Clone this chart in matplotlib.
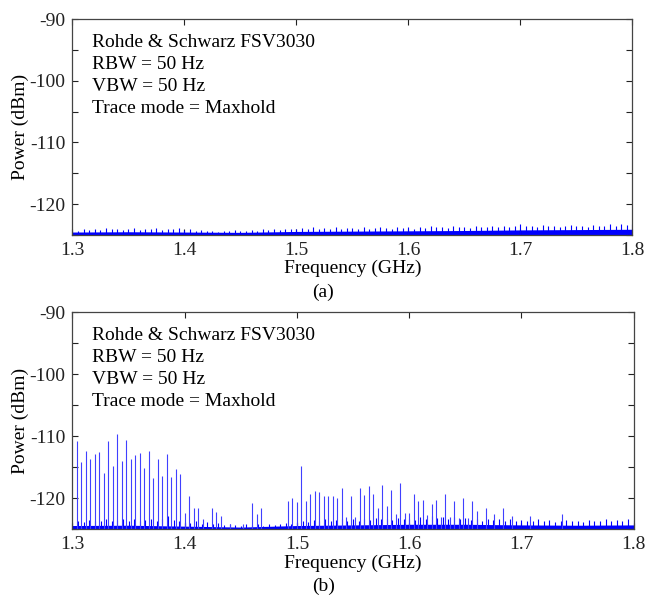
import numpy as np
import matplotlib
matplotlib.use('Agg')
from matplotlib import pyplot as plt

plt.rcParams['font.family'] = ['Liberation Serif', 'DejaVu Serif']
plt.rcParams['axes.unicode_minus'] = False

# frequency grid for the noise trace (GHz), one value every 5 MHz
noiseFreq = np.round(np.arange(1.300, 1.8001, 0.005), 4)
floorFreq = [1.30, 1.35, 1.40, 1.45, 1.50, 1.55, 1.60, 1.65, 1.70, 1.75, 1.80]

# (a) noise floor only
floorA = [-124.55, -124.5, -124.55, -124.6, -124.45, -124.4, -124.35, -124.3, -124.2, -124.15, -124.1]
grassA = [-124.4, -124.3, -124.1, -124.2, -124.0, -124.2, -123.9, -124.1, -124.0, -124.2,
          -124.1, -123.9, -124.2, -124.0, -124.1, -123.9, -124.2, -124.0, -124.1, -123.9,
          -124.2, -124.1, -124.3, -124.2, -124.4, -124.3, -124.5, -124.3, -124.4, -124.2,
          -124.3, -124.4, -124.2, -124.3, -124.1, -124.2, -124.0, -124.2, -124.1, -124.0,
          -124.1, -123.9, -124.0, -123.8, -124.0, -123.9, -124.1, -123.8, -124.0, -123.9,
          -123.9, -124.0, -123.8, -124.0, -123.9, -123.7, -123.9, -124.0, -123.8, -123.9,
          -123.8, -124.0, -123.7, -123.9, -123.6, -123.8, -123.7, -123.9, -123.6, -123.8,
          -123.7, -123.9, -123.6, -123.8, -123.7, -123.5, -123.8, -123.6, -123.7, -123.5,
          -123.3, -123.6, -123.5, -123.7, -123.4, -123.6, -123.5, -123.7, -123.6, -123.4,
          -123.6, -123.5, -123.7, -123.4, -123.6, -123.5, -123.3, -123.6, -123.2, -123.4,
          -123.3]

# (b) noise floor plus the interference lines
floorB = [-124.4, -124.35, -124.5, -124.65, -124.4, -124.3, -124.2, -124.2, -124.3, -124.35, -124.3]
grassB = [-123.9, -123.6, -123.8, -123.5, -123.7, -123.6, -123.4, -123.7, -123.5, -123.3,
          -123.6, -123.4, -123.7, -123.5, -123.3, -123.6, -123.4, -122.9, -123.5, -123.6,
          -123.8, -124.0, -123.7, -124.1, -123.9, -124.2, -124.0, -124.3, -124.1, -124.3,
          -124.4, -124.2, -124.3, -124.1, -124.4, -124.2, -124.3, -124.1, -124.0, -124.2,
          -123.9, -123.6, -123.8, -123.5, -123.7, -123.4, -123.6, -123.5, -123.3, -123.6,
          -123.4, -123.6, -123.3, -123.5, -123.2, -123.4, -123.3, -123.5, -123.2, -123.4,
          -123.3, -123.5, -123.1, -123.4, -122.9, -123.2, -123.0, -123.3, -123.1, -123.4,
          -123.2, -123.5, -123.3, -123.6, -123.4, -123.5, -123.3, -123.6, -123.4, -123.7,
          -123.5, -123.7, -123.6, -123.4, -123.7, -123.5, -123.8, -123.6, -123.5, -123.7,
          -123.6, -123.8, -123.5, -123.7, -123.6, -123.4, -123.7, -123.5, -123.6, -123.4,
          -123.5]

spikeFreq = [1.304, 1.308, 1.312, 1.316, 1.320, 1.324, 1.328, 1.332, 1.336, 1.340,
             1.344, 1.348, 1.352, 1.356, 1.360, 1.364, 1.368, 1.372, 1.376, 1.380,
             1.384, 1.388, 1.392, 1.396, 1.400, 1.404, 1.408, 1.412, 1.416, 1.424,
             1.428, 1.432, 1.440, 1.452, 1.460, 1.464, 1.468, 1.492, 1.496, 1.500,
             1.504, 1.508, 1.512, 1.516, 1.520, 1.524, 1.528, 1.532, 1.536, 1.540,
             1.544, 1.548, 1.552, 1.556, 1.560, 1.564, 1.568, 1.572, 1.576, 1.580,
             1.584, 1.588, 1.592, 1.596, 1.600, 1.604, 1.608, 1.612, 1.616, 1.620,
             1.624, 1.628, 1.632, 1.636, 1.640, 1.644, 1.648, 1.652, 1.656, 1.660,
             1.668, 1.676, 1.684, 1.692, 1.708, 1.736]
spikePower = [-110.8, -114.2, -112.4, -113.7, -112.8, -112.5, -115.9, -110.7, -114.8, -109.6,
              -114.0, -110.6, -113.6, -113.0, -112.7, -115.1, -112.3, -116.7, -113.7, -116.4,
              -112.9, -116.6, -115.3, -116.1, -122.4, -119.6, -121.6, -121.6, -123.4, -121.5,
              -122.2, -122.8, -124.1, -124.2, -120.8, -122.5, -121.5, -120.4, -119.9, -120.6,
              -114.8, -120.5, -119.3, -118.8, -119.0, -119.6, -119.6, -119.6, -119.9, -118.3,
              -123.0, -119.6, -123.0, -118.3, -119.4, -118.0, -119.3, -121.5, -117.8, -121.3,
              -118.6, -122.5, -117.5, -122.3, -122.4, -119.3, -120.5, -120.3, -122.7, -121.0,
              -120.3, -123.0, -119.3, -123.0, -120.5, -123.2, -120.0, -123.2, -120.4, -122.0,
              -121.6, -122.5, -121.5, -122.8, -122.9, -122.5]

infoLines = ['Rohde & Schwarz FSV3030', 'RBW = 50 Hz', 'VBW = 50 Hz', 'Trace mode = Maxhold']

fig = plt.figure(figsize=(6.45, 5.96), dpi=100)
axA = fig.add_axes([0.1124, 0.606, 0.868, 0.362])
axB = fig.add_axes([0.1124, 0.112, 0.870, 0.364])

def drawPanel(ax, floor, grass, tag, spikes=None):
    ax.fill_between(floorFreq, -126, floor, color='#0000ff', lw=0)
    ax.vlines(noiseFreq, -126, grass, color='#0000ff', lw=0.8)
    if spikes is not None:
        ax.vlines(spikes[0], -126, spikes[1], color='#4040ff', lw=0.8)
    ax.set_xlim(1.3, 1.8)
    ax.set_ylim(-125, -90)
    ax.set_xticks([1.3, 1.4, 1.5, 1.6, 1.7, 1.8])
    ax.set_yticks([-120, -110, -100, -90])
    ax.set_yticks([-125, -115, -105, -95], minor=True)
    ax.tick_params(which='both', direction='in', top=True, right=True, length=4,
                   width=0.8, labelsize=14, colors='#222222', pad=5)
    for s in ax.spines.values():
        s.set_color('#444444')
        s.set_linewidth(0.9)
    ax.set_xlabel('Frequency (GHz)', fontsize=14, labelpad=1)
    ax.set_ylabel('Power (dBm)', fontsize=14, labelpad=0)
    for i, line in enumerate(infoLines):
        ax.annotate(line, xy=(0.0, 1.0), xycoords='axes fraction',
                    xytext=(14, -17 - 15.8 * i), textcoords='offset points',
                    fontsize=14, va='center', ha='left')
    ax.text(0.447, -0.265, tag, transform=ax.transAxes, fontsize=14, ha='center', va='center')

drawPanel(axA, floorA, grassA, '(a)')
drawPanel(axB, floorB, grassB, '(b)', spikes=(spikeFreq, spikePower))

plt.savefig('out.png', dpi=100)
